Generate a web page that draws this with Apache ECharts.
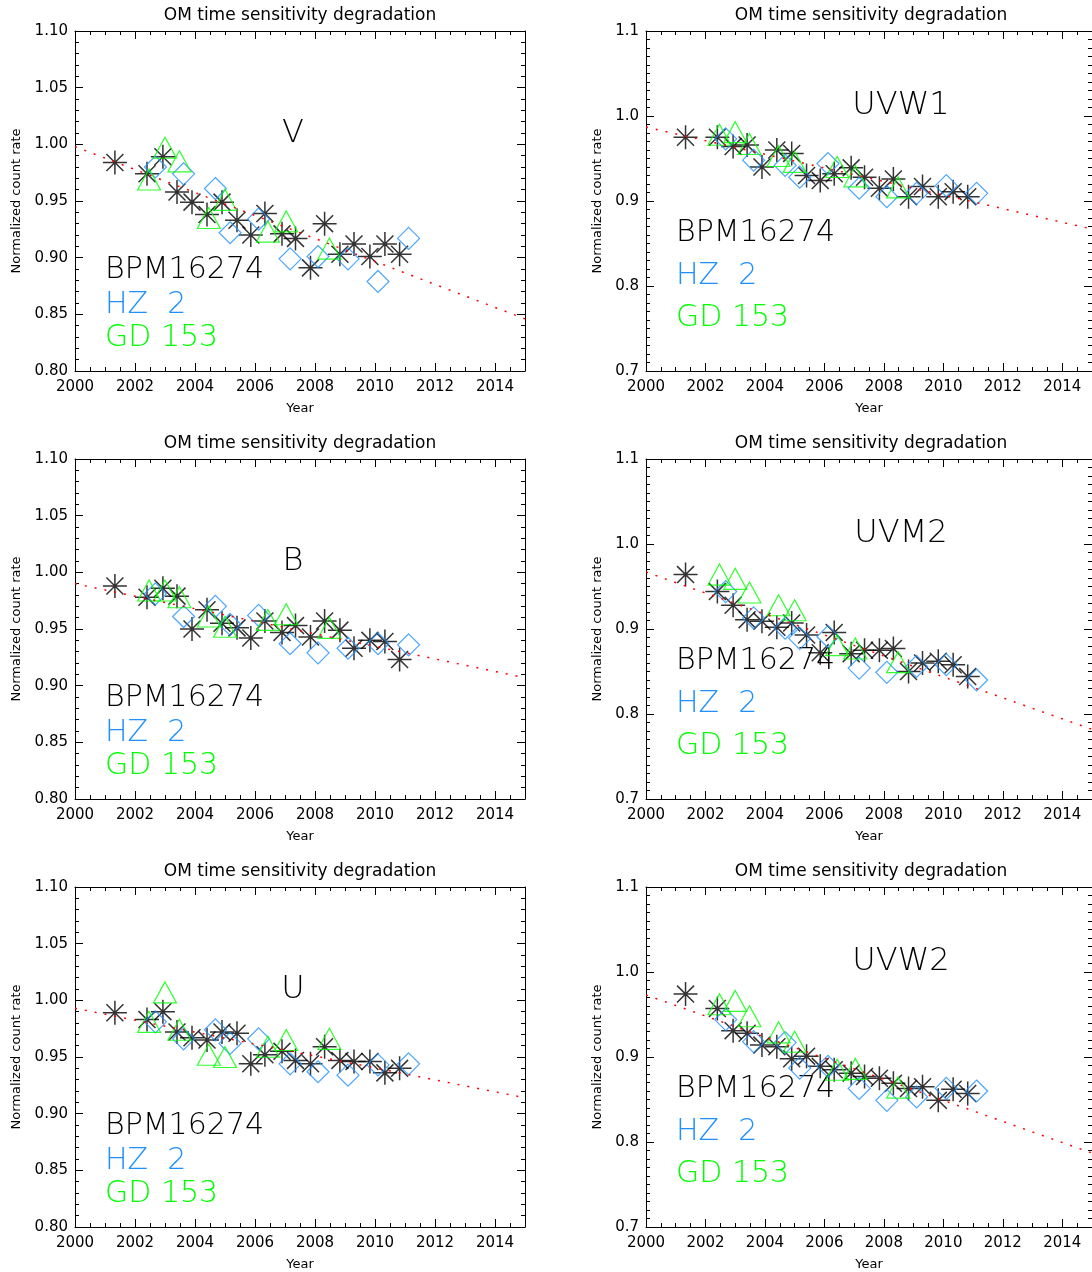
<!DOCTYPE html>
<html>
<head>
<meta charset="utf-8">
<title>OM time sensitivity degradation</title>
<script src="https://cdn.jsdelivr.net/npm/echarts@6/dist/echarts.min.js"></script>
<style>
  html, body { margin: 0; padding: 0; background: #fff; }
  #main { width: 1092px; height: 1272px; }
</style>
</head>
<body>
<div id="main"></div>
<script>
// observation epochs (decimal year) of the three standard stars
var bpmYears = [2001.33, 2002.4, 2002.93, 2003.4, 2003.9, 2004.4, 2004.9, 2005.4, 2005.86, 2006.33,
                2006.9, 2007.35, 2007.85, 2008.32, 2008.83, 2009.3, 2009.83, 2010.33, 2010.82];
var hz2Years = [2002.68, 2003.62, 2004.68, 2005.17, 2006.12, 2007.17, 2008.1, 2009.1, 2010.1, 2011.12];
var gd153Years = [2002.47, 2003.0, 2003.48, 2004.46, 2005.0, 2006.43, 2007.04, 2008.48];

// normalized count rates, one array per star and filter
var bpmV = [0.984, 0.974, 0.989, 0.958, 0.949, 0.938, 0.949, 0.933, 0.920, 0.939, 0.921, 0.917, 0.891, 0.930, 0.903, 0.912, 0.901, 0.912, 0.903];
var hz2V = [0.980, 0.974, 0.961, 0.922, 0.934, 0.899, 0.901, 0.899, 0.879, 0.917];
var gdV = [0.969, 0.997, 0.985, 0.935, 0.951, 0.923, 0.932, 0.908];

var bpmB = [0.988, 0.978, 0.986, 0.979, 0.950, 0.967, 0.955, 0.951, 0.942, 0.957, 0.947, 0.953, 0.943, 0.957, 0.949, 0.933, 0.940, 0.939, 0.923];
var hz2B = [0.981, 0.961, 0.970, 0.954, 0.962, 0.937, 0.929, 0.933, 0.937, 0.936];
var gdB = [0.984, 0.984, 0.978, 0.961, 0.952, 0.958, 0.963, 0.951];

var bpmU = [0.989, 0.983, 0.990, 0.972, 0.967, 0.965, 0.972, 0.971, 0.944, 0.952, 0.955, 0.947, 0.944, 0.959, 0.947, 0.946, 0.946, 0.936, 0.940];
var hz2U = [0.981, 0.966, 0.974, 0.962, 0.966, 0.944, 0.937, 0.934, 0.943, 0.944];
var gdU = [0.981, 1.007, 0.974, 0.952, 0.950, 0.959, 0.965, 0.966];

var bpmW1 = [0.975, 0.975, 0.964, 0.966, 0.940, 0.960, 0.956, 0.930, 0.924, 0.932, 0.939, 0.928, 0.915, 0.926, 0.905, 0.917, 0.905, 0.911, 0.905];
var hz2W1 = [0.973, 0.948, 0.942, 0.928, 0.944, 0.915, 0.905, 0.909, 0.918, 0.909];
var gdW1 = [0.978, 0.981, 0.967, 0.953, 0.946, 0.940, 0.929, 0.916];

var bpmM2 = [0.964, 0.944, 0.928, 0.911, 0.909, 0.902, 0.907, 0.893, 0.872, 0.896, 0.871, 0.875, 0.875, 0.877, 0.850, 0.860, 0.862, 0.858, 0.844];
var hz2M2 = [0.944, 0.913, 0.901, 0.889, 0.891, 0.854, 0.849, 0.856, 0.858, 0.840];
var gdM2 = [0.964, 0.959, 0.943, 0.928, 0.922, 0.881, 0.877, 0.861];

var bpmW2 = [0.974, 0.957, 0.931, 0.928, 0.914, 0.912, 0.898, 0.901, 0.889, 0.885, 0.881, 0.877, 0.875, 0.869, 0.863, 0.865, 0.849, 0.862, 0.857];
var hz2W2 = [0.944, 0.918, 0.917, 0.887, 0.889, 0.863, 0.849, 0.853, 0.863, 0.860];
var gdW2 = [0.962, 0.966, 0.948, 0.929, 0.918, 0.885, 0.886, 0.864];

// linear fit: value at 2000 and at 2015
var fitYears = [2000, 2015];
var fitV = [0.998, 0.846];
var fitB = [0.990, 0.907];
var fitU = [0.993, 0.914];
var fitW1 = [0.987, 0.867];
var fitM2 = [0.967, 0.782];
var fitW2 = [0.973, 0.787];

var starNames = ['BPM16274', 'HZ  2', 'GD 153'];
var plotTitle = 'OM time sensitivity degradation';

var FONT = 'DejaVu Sans';
var BLUE = '#1e90ff';
var GREEN = '#00ff00';
var ASTERISK = 'path://M0,-10L0,10M-10,0L10,0M-7.07,-7.07L7.07,7.07M-7.07,7.07L7.07,-7.07';

var panels = [
  {label: 'V',    col: 0, row: 0, bpm: bpmV,  hz2: hz2V,  gd: gdV,  fit: fitV},
  {label: 'UVW1', col: 1, row: 0, bpm: bpmW1, hz2: hz2W1, gd: gdW1, fit: fitW1},
  {label: 'B',    col: 0, row: 1, bpm: bpmB,  hz2: hz2B,  gd: gdB,  fit: fitB},
  {label: 'UVM2', col: 1, row: 1, bpm: bpmM2, hz2: hz2M2, gd: gdM2, fit: fitM2},
  {label: 'U',    col: 0, row: 2, bpm: bpmU,  hz2: hz2U,  gd: gdU,  fit: fitU},
  {label: 'UVW2', col: 1, row: 2, bpm: bpmW2, hz2: hz2W2, gd: gdW2, fit: fitW2}
];

var colLeft = [75, 646];
var rowTop = [31, 459, 887];
var W = 450, H = 340;

function pairs(xs, ys) {
  var out = [];
  for (var i = 0; i < xs.length; i++) out.push([xs[i], ys[i]]);
  return out;
}

// large labels use the extra light face so strokes stay thin like the small text
function font(weight, size) {
  return weight + ' ' + size + 'px "' + FONT + '"';
}

var axisLineStyle = {color: '#000', width: 1};
var grids = [], xAxes = [], yAxes = [], series = [], graphics = [];

panels.forEach(function (p, i) {
  var left = colLeft[p.col], top = rowTop[p.row];
  grids.push({left: left, top: top, width: W, height: H});

  // x: main ticks every 2 years with labels, then a 0.5 year axis for minor ticks
  ['bottom', 'top'].forEach(function (pos) {
    xAxes.push({
      type: 'value', gridIndex: i, position: pos, min: 2000, max: 2015, interval: 2,
      name: pos === 'bottom' ? 'Year' : '', nameLocation: 'middle', nameGap: 31,
      nameTextStyle: {fontFamily: FONT, fontSize: 13, color: '#000'},
      axisLine: {show: true, onZero: false, lineStyle: axisLineStyle},
      axisTick: {inside: true, length: 8, lineStyle: axisLineStyle},
      axisLabel: {show: pos === 'bottom', margin: 9, fontFamily: FONT, fontSize: 15,
        color: '#000', showMaxLabel: false, formatter: function (v) { return String(v); }},
      splitLine: {show: false}
    });
    xAxes.push({
      type: 'value', gridIndex: i, position: pos, min: 2000, max: 2015, interval: 0.5,
      axisLine: {show: false}, axisLabel: {show: false},
      axisTick: {inside: true, length: 4, lineStyle: axisLineStyle},
      splitLine: {show: false}
    });
  });

  var yc = p.col === 0
    ? {min: 0.8, max: 1.1, interval: 0.05, minor: 5, dec: 2, gap: 52}
    : {min: 0.7, max: 1.1, interval: 0.1, minor: 10, dec: 1, gap: 42};
  ['left', 'right'].forEach(function (pos) {
    yAxes.push({
      type: 'value', gridIndex: i, position: pos, min: yc.min, max: yc.max, interval: yc.interval,
      name: pos === 'left' ? 'Normalized count rate' : '', nameLocation: 'middle', nameGap: yc.gap,
      nameTextStyle: {fontFamily: FONT, fontSize: 13, color: '#000'},
      axisLine: {show: true, onZero: false, lineStyle: axisLineStyle},
      axisTick: {inside: true, length: 8, lineStyle: axisLineStyle},
      minorTick: {show: true, splitNumber: yc.minor, length: 4, lineStyle: axisLineStyle},
      axisLabel: {show: pos === 'left', margin: 7, fontFamily: FONT, fontSize: 15, color: '#000',
        formatter: function (v) { return v.toFixed(yc.dec); }},
      splitLine: {show: false}
    });
  });

  var xi = i * 4, yi = i * 2;
  series.push({
    type: 'scatter', xAxisIndex: xi, yAxisIndex: yi, data: pairs(bpmYears, p.bpm),
    symbol: ASTERISK, symbolSize: 24,
    itemStyle: {color: 'rgba(0,0,0,0)', borderColor: '#000', borderWidth: 1.5}, z: 3
  });
  series.push({
    type: 'scatter', xAxisIndex: xi, yAxisIndex: yi, data: pairs(hz2Years, p.hz2),
    symbol: 'diamond', symbolSize: 22,
    itemStyle: {color: 'rgba(0,0,0,0)', borderColor: BLUE, borderWidth: 1.2}, z: 3
  });
  series.push({
    type: 'scatter', xAxisIndex: xi, yAxisIndex: yi, data: pairs(gd153Years, p.gd),
    symbol: 'triangle', symbolSize: [23, 21],
    itemStyle: {color: 'rgba(0,0,0,0)', borderColor: GREEN, borderWidth: 1.2}, z: 3
  });
  series.push({
    type: 'line', xAxisIndex: xi, yAxisIndex: yi, data: pairs(fitYears, p.fit),
    showSymbol: false, symbol: 'none',
    lineStyle: {color: '#ff0000', width: 1.5, type: [2, 8]}, z: 4
  });

  // texts
  graphics.push({type: 'text', x: left + W / 2, y: top - 15, silent: true,
    style: {text: plotTitle, fill: '#000', font: font('normal', 17), align: 'center', verticalAlign: 'middle'}});
  var lx = p.col === 0 ? left + 218 : left + 255;
  var ly = p.col === 0 ? top + 103 : top + 75;
  graphics.push({type: 'text', x: lx, y: ly, silent: true,
    style: {text: p.label, fill: '#000', font: font(200, 32), align: 'center', verticalAlign: 'middle'}});
  var legX = left + 30;
  var legY = p.col === 0 ? [239, 274, 307] : [202, 245, 287];
  var legC = ['#000', BLUE, GREEN];
  for (var k = 0; k < 3; k++) {
    graphics.push({type: 'text', x: legX, y: top + legY[k], silent: true,
      style: {text: starNames[k], fill: legC[k], font: font(200, 30), align: 'left', verticalAlign: 'middle'}});
  }
});

var chart = echarts.init(document.getElementById('main'));
chart.setOption({
  animation: false,
  backgroundColor: '#fff',
  grid: grids,
  xAxis: xAxes,
  yAxis: yAxes,
  series: series,
  graphic: graphics
});
</script>
</body>
</html>
